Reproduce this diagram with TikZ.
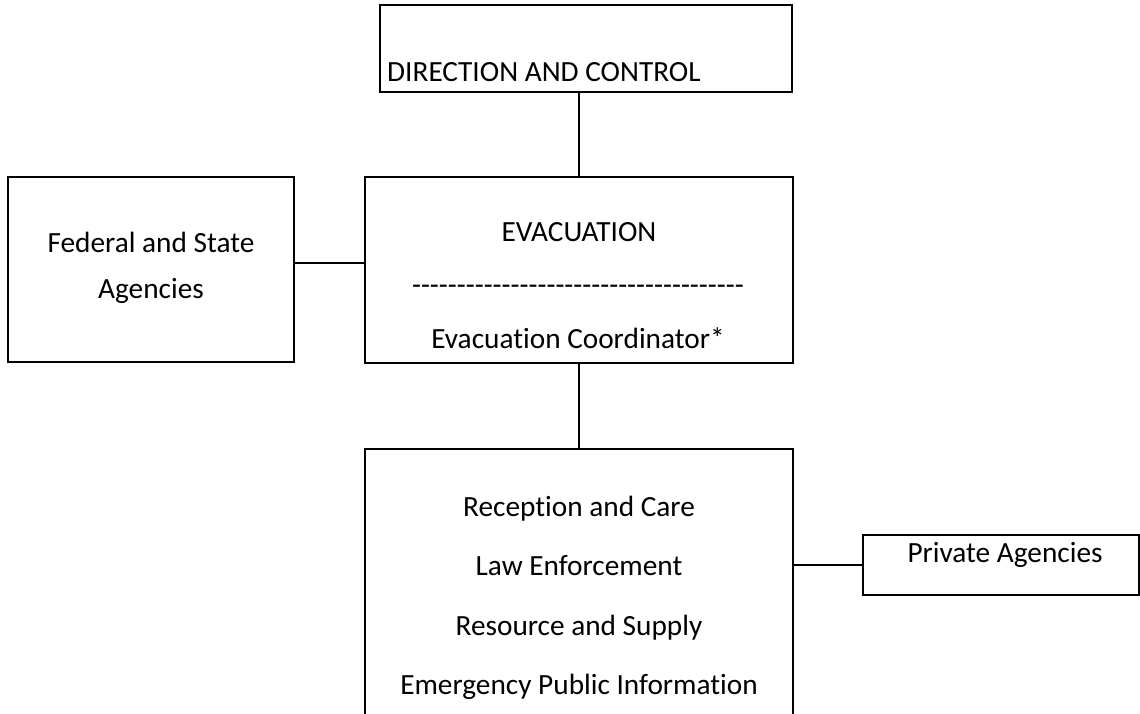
\documentclass[tikz,border=0pt]{standalone}
\usepackage{fontspec}
\setmainfont{Carlito}[Ligatures={TeXOff,NoCommon}]
\begin{document}
\begin{tikzpicture}[x=1pt, y=-1pt, line join=miter, font=\fontsize{29.3}{35}\selectfont,
	box/.style={draw, line width=1.8pt, rectangle, inner sep=0pt},
	txt/.style={anchor=base, inner sep=0pt}]
	\useasboundingbox[fill=white] (0,0) rectangle (1140,714);
	% boxes
	\node[box, minimum width=412, minimum height=87] (dc) at (586,48.5) {};
	\node[box, minimum width=428, minimum height=186] (evac) at (579,270) {};
	\node[box, minimum width=286, minimum height=185] (fed) at (151,269.5) {};
	\node[inner sep=0pt, minimum width=428, minimum height=272] (tasks) at (579,585) {};
	\node[box, minimum width=276, minimum height=60] (priv) at (1001,565) {};
	\draw[line width=1.8pt] (tasks.south west)--(tasks.north west)--(tasks.north east)--(tasks.south east);
	% texts
	\node[txt, anchor=base west] (dct) at (387,82) {DIRECTION AND CONTROL};
	\node[txt] (evt) at (579,241) {EVACUATION};
	\node[txt] (evd) at (578,294) {-------------------------------------};
	\node[txt] (evc) at (578,348) {Evacuation Coordinator*};
	\node[txt] (fed1) at (151,252) {Federal and State};
	\node[txt] (fed2) at (151,298) {Agencies};
	\foreach \ten/\y in {Reception and Care/516, Law Enforcement/575, Resource and Supply/635, Emergency Public Information/694}
		\node[txt] at (579,\y) {\ten};
	\node[txt] (privt) at (1005,562) {Private Agencies};
	% connectors
	\draw[line width=1.8pt] (evac.north) -- (evac.north |- dc.south);
	\draw[line width=1.8pt] (fed.east |- 0,263) -- (evac.west |- 0,263);
	\draw[line width=1.8pt] (evac.south) -- (tasks.north);
	\draw[line width=1.8pt] (priv.west) -- (priv.west -| tasks.east);
\end{tikzpicture}
\end{document}
